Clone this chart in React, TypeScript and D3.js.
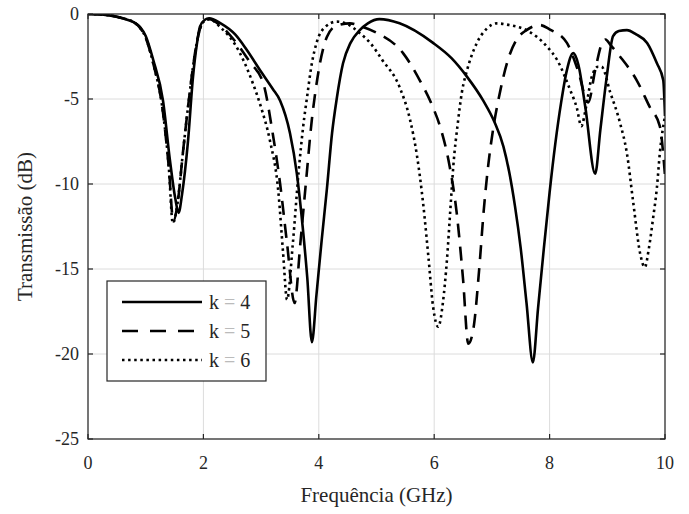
import React from "react";
import * as d3 from "d3";

const xTicks = [0, 2, 4, 6, 8, 10];
const yTicks = [0, -5, -10, -15, -20, -25];

const k4: [number, number][] = [
  [0, 0], [0.3, -0.05], [0.6, -0.25], [0.8, -0.5], [0.9, -0.75], [1.0, -1.3], [1.13, -2.7],
  [1.3, -5.1], [1.42, -8.6], [1.51, -10.8], [1.57, -11.7], [1.63, -10.6], [1.73, -7.6],
  [1.82, -3.7], [1.89, -1.7], [1.94, -0.75], [2.02, -0.35], [2.1, -0.25], [2.3, -0.55],
  [2.55, -1.2], [2.75, -2.1], [3.0, -3.4], [3.2, -4.4], [3.33, -5.1], [3.5, -7.0],
  [3.62, -9.4], [3.72, -12.5], [3.8, -15.5], [3.88, -19.3], [3.96, -16.5], [4.05, -13.3],
  [4.14, -10.3], [4.23, -7.0], [4.31, -5.0], [4.42, -2.9], [4.55, -1.7], [4.71, -0.95],
  [4.85, -0.55], [5.05, -0.3], [5.4, -0.55], [5.98, -1.7], [6.3, -2.6], [6.57, -3.7],
  [6.85, -5.1], [7.05, -6.4], [7.2, -7.8], [7.3, -9.3], [7.4, -11.3], [7.5, -13.8],
  [7.6, -17.0], [7.71, -20.5], [7.8, -17.3], [7.9, -13.8], [8.0, -10.5], [8.1, -7.6],
  [8.2, -5.2], [8.3, -3.3], [8.41, -2.3], [8.5, -3.0], [8.62, -5.5], [8.79, -9.4],
  [8.88, -6.8], [8.99, -3.7], [9.1, -1.3], [9.2, -1.0], [9.34, -0.95], [9.5, -1.2],
  [9.69, -1.7], [9.86, -2.9], [9.97, -3.9], [10, -6.0],
];

const k5: [number, number][] = [
  [0, 0], [0.3, -0.05], [0.6, -0.25], [0.8, -0.5], [0.9, -0.8], [1.0, -1.4], [1.13, -2.9],
  [1.3, -5.8], [1.4, -9], [1.48, -12.2], [1.55, -11.2], [1.65, -8], [1.75, -5], [1.85, -2.4],
  [1.93, -1.0], [2.02, -0.4], [2.1, -0.3], [2.3, -0.7], [2.55, -1.6], [2.8, -2.8],
  [3.04, -4.1], [3.2, -7], [3.33, -10], [3.45, -13.5], [3.58, -17.0], [3.68, -13.5],
  [3.78, -9.8], [3.88, -6.2], [3.94, -4.6], [4.02, -2.9], [4.14, -1.35], [4.3, -0.7],
  [4.54, -0.55], [4.75, -0.75], [5.0, -1.1], [5.46, -2.3], [5.75, -3.9], [5.98, -5.5],
  [6.1, -6.6], [6.27, -9], [6.39, -11.7], [6.5, -15.6], [6.59, -19.4], [6.68, -18.5],
  [6.78, -15], [6.86, -11.5], [6.94, -8.8], [7.02, -6.8], [7.14, -4.6], [7.26, -2.9],
  [7.43, -1.5], [7.6, -0.95], [7.83, -0.65], [8.0, -0.9], [8.3, -1.7], [8.49, -3.3],
  [8.67, -5.2], [8.79, -3.3], [8.91, -1.7], [8.97, -1.5], [9.05, -1.8], [9.22, -2.5],
  [9.51, -3.9], [9.74, -5.5], [9.91, -6.6], [10, -9.5],
];

const k6: [number, number][] = [
  [0, 0], [0.3, -0.05], [0.6, -0.25], [0.8, -0.5], [0.9, -0.8], [1.0, -1.4], [1.13, -2.9],
  [1.3, -5.8], [1.4, -9], [1.47, -12.3], [1.54, -11.4], [1.65, -8], [1.75, -5], [1.85, -2.4],
  [1.93, -1.0], [2.02, -0.4], [2.1, -0.3], [2.3, -0.8], [2.55, -1.8], [2.86, -4.1],
  [3.0, -5.5], [3.15, -7.4], [3.3, -10.5], [3.38, -14], [3.45, -16.8], [3.55, -13.5],
  [3.65, -9.3], [3.73, -6.6], [3.8, -4.8], [3.87, -3.1], [3.97, -1.6], [4.1, -0.8],
  [4.31, -0.45], [4.5, -0.6], [4.7, -1.1], [4.89, -1.7], [5.1, -2.7], [5.4, -4.3],
  [5.58, -6.2], [5.7, -8.3], [5.81, -11.2], [5.9, -14.3], [5.98, -17.2], [6.07, -18.4],
  [6.15, -17.0], [6.22, -14.5], [6.28, -11.5], [6.33, -9], [6.41, -6.4], [6.48, -4.6],
  [6.57, -3.3], [6.74, -1.7], [6.9, -0.9], [7.09, -0.55], [7.3, -0.65], [7.6, -0.95],
  [7.95, -1.9], [8.13, -2.7], [8.36, -4.5], [8.47, -5.5], [8.55, -6.6], [8.63, -5.5],
  [8.73, -3.7], [8.84, -3.1], [8.9, -3.1], [9.05, -4.6], [9.22, -6.4], [9.34, -8.2],
  [9.45, -11.1], [9.57, -14.1], [9.65, -14.9], [9.72, -13.8], [9.79, -12.1], [9.86, -10.2],
  [9.91, -8.2], [10, -6.0],
];

const seriesNames = ["4", "5", "6"];
const seriesData = [k4, k5, k6];
const seriesDash = ["none", "14,9", "2.5,3.6"];

const W = 689, H = 514;
const L = 88, R = 665, T = 14, B = 439;
const FONT = "'Liberation Serif', 'Times New Roman', 'DejaVu Serif', serif";
const txt = { fontFamily: FONT };

export default function App() {
  const x = d3.scaleLinear().domain([0, 10]).range([L, R]);
  const y = d3.scaleLinear().domain([-25, 0]).range([B, T]);
  const line = d3
    .line<[number, number]>()
    .x((d) => x(d[0]))
    .y((d) => y(d[1]))
    .curve(d3.curveMonotoneX);

  const legX = 107, legY = 281, legW = 159, legH = 100;
  const rows = [302, 331, 360];

  return (
    <svg
      width={W}
      height={H}
      style={{ position: "absolute", left: 0, top: 0, background: "#fff" }}
    >
      <rect x={0} y={0} width={W} height={H} fill="#fff" />
      <defs>
        <clipPath id="plot">
          <rect x={L} y={T} width={R - L} height={B - T} />
        </clipPath>
      </defs>
      {xTicks.map((t) => (
        <line key={"gx" + t} x1={x(t)} x2={x(t)} y1={T} y2={B} stroke="#dcdcdc" strokeWidth={1} />
      ))}
      {yTicks.map((t) => (
        <line key={"gy" + t} x1={L} x2={R} y1={y(t)} y2={y(t)} stroke="#dcdcdc" strokeWidth={1} />
      ))}
      <g clipPath="url(#plot)">
        {seriesData.map((d, i) => (
          <path
            key={i}
            d={line(d) || ""}
            fill="none"
            stroke="#000"
            strokeWidth={2.6}
            strokeDasharray={seriesDash[i]}
            strokeLinejoin="round"
          />
        ))}
      </g>
      <rect x={L} y={T} width={R - L} height={B - T} fill="none" stroke="#262626" strokeWidth={1.2} />
      {xTicks.map((t) => (
        <g key={"tx" + t}>
          <line x1={x(t)} x2={x(t)} y1={B} y2={B - 5} stroke="#262626" strokeWidth={1.2} />
          <line x1={x(t)} x2={x(t)} y1={T} y2={T + 5} stroke="#262626" strokeWidth={1.2} />
          <text x={x(t)} y={463} textAnchor="middle" dominantBaseline="central" fontSize={18} fill="#262626" style={txt}>
            {t}
          </text>
        </g>
      ))}
      {yTicks.map((t) => (
        <g key={"ty" + t}>
          <line x1={L} x2={L + 5} y1={y(t)} y2={y(t)} stroke="#262626" strokeWidth={1.2} />
          <line x1={R} x2={R - 5} y1={y(t)} y2={y(t)} stroke="#262626" strokeWidth={1.2} />
          <text x={79} y={y(t)} textAnchor="end" dominantBaseline="central" fontSize={18} fill="#262626" style={txt}>
            {t}
          </text>
        </g>
      ))}
      <text x={(L + R) / 2} y={495} textAnchor="middle" dominantBaseline="central" fontSize={21} fill="#262626" style={txt}>
        Frequência (GHz)
      </text>
      <text
        transform={`translate(25,${(T + B) / 2}) rotate(-90)`}
        textAnchor="middle"
        dominantBaseline="central"
        fontSize={21}
        fill="#262626"
        style={txt}
      >
        Transmissão (dB)
      </text>
      <rect x={legX} y={legY} width={legW} height={legH} fill="#fff" stroke="#262626" strokeWidth={1.2} />
      {seriesNames.map((n, i) => (
        <g key={"lg" + n}>
          <line
            x1={122}
            x2={202}
            y1={rows[i]}
            y2={rows[i]}
            stroke="#000"
            strokeWidth={2.6}
            strokeDasharray={i === 1 ? "16,12" : seriesDash[i]}
          />
          <text x={209} y={rows[i]} dominantBaseline="central" fontSize={20} fill="#262626" style={txt}>
            k <tspan fill="#bbbbbb">=</tspan> {n}
          </text>
        </g>
      ))}
    </svg>
  );
}
